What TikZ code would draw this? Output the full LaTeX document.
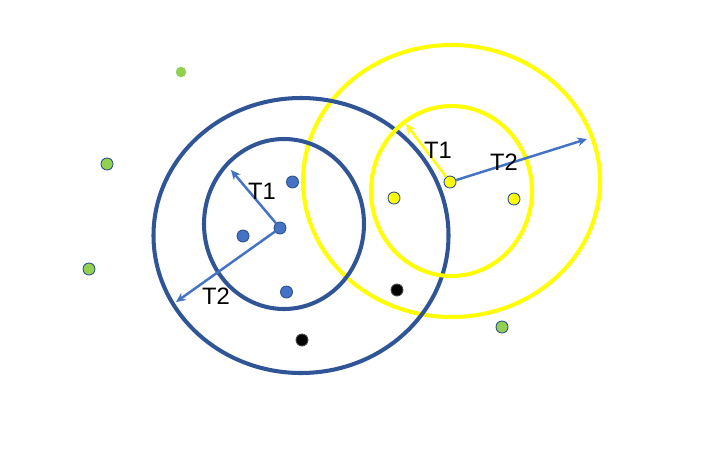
\documentclass[tikz,border=0pt]{standalone}
\usepackage{fontspec}
\setmainfont{Liberation Sans}
\usetikzlibrary{arrows.meta}
\definecolor{ringblue}{HTML}{2F5597}
\definecolor{ringyellow}{HTML}{FFFF00}
\definecolor{dotblue}{HTML}{4472C4}
\definecolor{dotedge}{HTML}{2F528F}
\definecolor{dotgreen}{HTML}{92D050}
\tikzset{
  ring/.style={line width=2.3pt},
  bluering/.style={ring, draw=ringblue},
  yellowring/.style={ring, draw=ringyellow},
  pt/.style={circle, minimum size=2.4mm, inner sep=0pt, draw=dotedge, line width=0.5pt},
  bluept/.style={pt, fill=dotblue},
  yellowpt/.style={pt, fill=ringyellow},
  blackpt/.style={pt, fill=black, draw=black!70},
  greenpt/.style={pt, fill=dotgreen},
  radius arrow/.style={-{Stealth[length=5.5pt,width=5pt]}, line width=1.4pt},
  tlabel/.style={font=\fontsize{13.5}{16}\selectfont, inner sep=1pt},
}

\begin{document}
\begin{tikzpicture}[x=0.02cm, y=-0.02cm]
    \useasboundingbox (0,0) rectangle (727,474);
    % rings, in the order they overlap
    \draw[yellowring] (451.5,181) ellipse [x radius=148.5, y radius=136];
    \draw[bluering] (301,235.5) ellipse [x radius=147.5, y radius=137.5];
    \draw[bluering] (284,224) ellipse [x radius=80, y radius=85];
    \draw[yellowring] (451.5,191) ellipse [x radius=80.5, y radius=85];
    % points
    \node[bluept] (bc) at (280,228) {};
    \node[bluept] (b1) at (292.5,182) {};
    \node[bluept] (b2) at (243,236) {};
    \node[bluept] (b3) at (286.5,292) {};
    \node[blackpt] (k1) at (302,340) {};
    \node[blackpt] (k2) at (397,290) {};
    \node[yellowpt] (yc) at (450,182) {};
    \node[yellowpt] (y1) at (394,198) {};
    \node[yellowpt] (y2) at (514,199) {};
    \node[greenpt, draw=none, minimum size=2.1mm] (g1) at (181,72) {};
    \node[greenpt] (g2) at (107,164) {};
    \node[greenpt] (g3) at (89,269) {};
    \node[greenpt] (g4) at (502,327) {};
    % ends of the radius arrows
    \coordinate (bT1) at (231,170);
    \coordinate (bT2) at (176,302);
    \coordinate (yT1) at (406,124);
    \coordinate (yT2) at (587,139);
    \draw[radius arrow, dotblue] (bc) -- (bT1);
    \draw[radius arrow, dotblue] (bc) -- (bT2);
    \draw[radius arrow, ringyellow] (yc) -- (yT1);
    \draw[radius arrow, dotblue] (yc) -- (yT2);
    % labels
    \node[tlabel] (lbT1) at (262,191) {T1};
    \node[tlabel] (lbT2) at (216,296) {T2};
    \node[tlabel] (lyT1) at (438,150) {T1};
    \node[tlabel] (lyT2) at (504,162) {T2};
  \end{tikzpicture}
\end{document}
